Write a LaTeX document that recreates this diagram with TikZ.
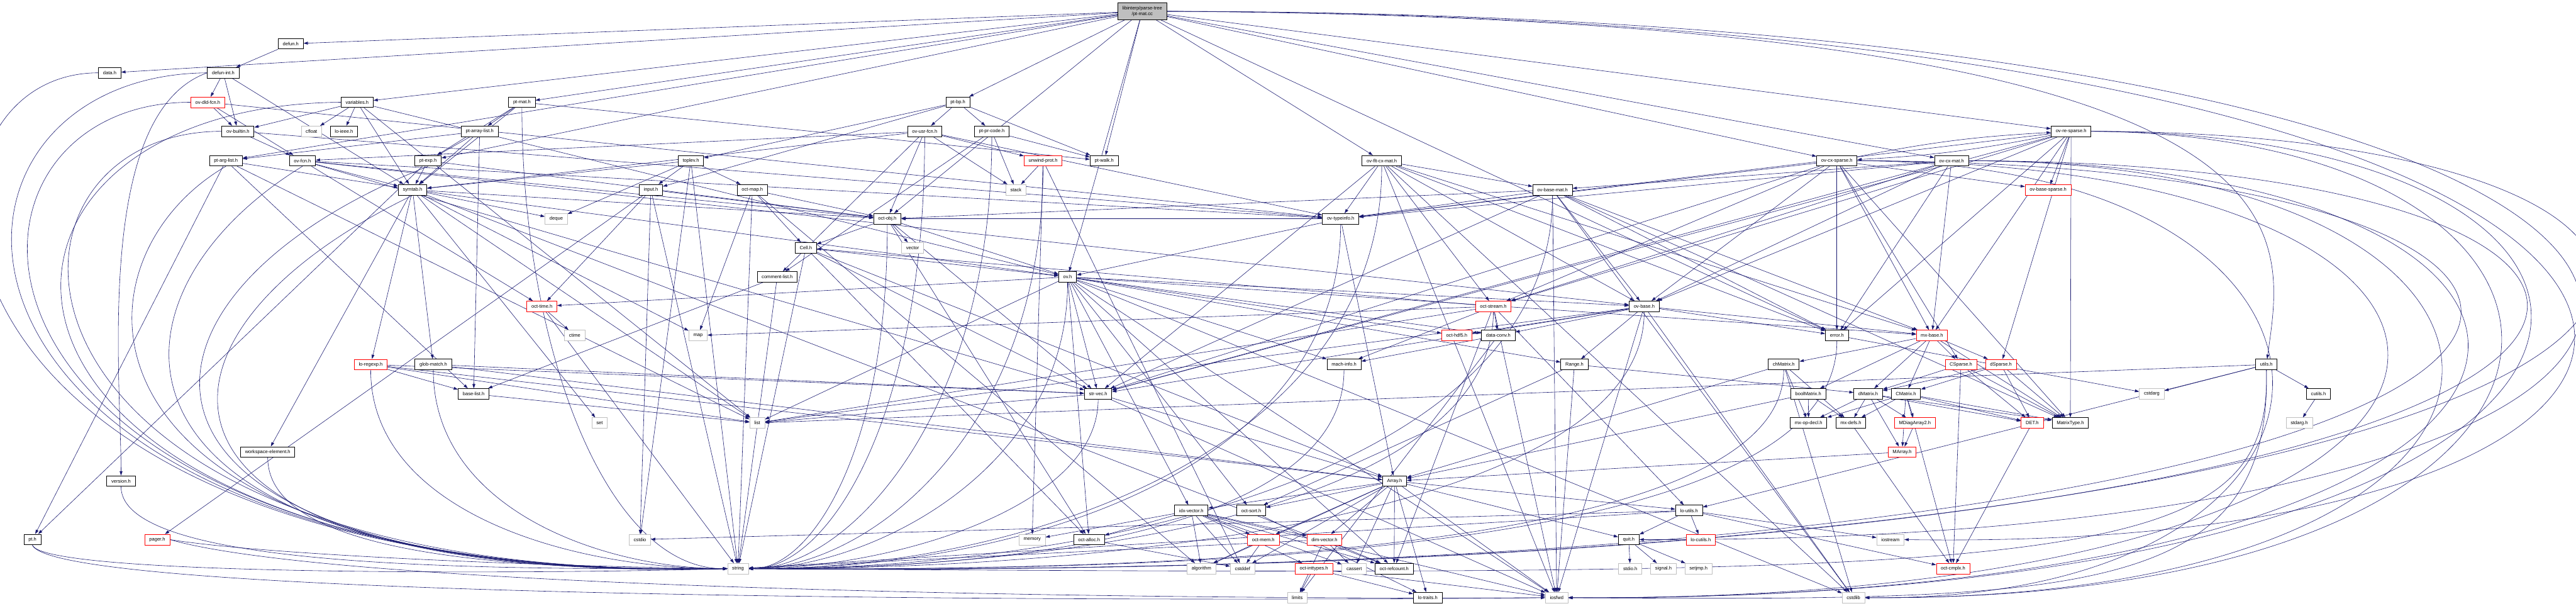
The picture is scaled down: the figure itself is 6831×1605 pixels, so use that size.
\documentclass[tikz,border=0pt]{standalone}
\usepackage{fontspec}
\setmainfont{Liberation Sans}
\usepackage{xcolor}
\usepackage{tikz}
\usetikzlibrary{arrows.meta,backgrounds}
\definecolor{inclblue}{RGB}{25,25,112}
\definecolor{sysgray}{RGB}{191,191,191}
\newcommand\hdrfont{\fontsize{9.5}{12.4}\selectfont}

\begin{document}
\begin{tikzpicture}[x=0.2646mm,y=-0.2646mm,
    hdr/.style={draw=black,line width=0.4mm,fill=white,font=\hdrfont,
      minimum height=7.4mm,inner xsep=3.2mm,inner ysep=0pt},
    redhdr/.style={hdr,draw=red,line width=0.3mm},
    syshdr/.style={hdr,draw=sysgray,line width=0.3mm},
    mainhdr/.style={hdr,fill=sysgray,align=center,minimum height=11.9mm},
    incl/.style={-{Triangle[length=3mm,width=2mm]},draw=inclblue,line width=0.26mm}]
  \useasboundingbox (0,0) rectangle (6831,1605);

  % file being documented
  \node[mainhdr] (main) at (3029,30) {libinterp/parse-tree\\/pt-mat.cc};

  % interpreter headers
  \node[hdr] (defun) at (771,116) {defun.h};
  \node[hdr] (data) at (291,193) {data.h};
  \node[hdr] (defunint) at (592,193) {defun-int.h};
  \node[redhdr] (ovdld) at (551,271) {ov-dld-fcn.h};
  \node[hdr] (variables) at (947,271) {variables.h};
  \node[hdr] (ptmath) at (1384,271) {pt-mat.h};
  \node[hdr] (ptbp) at (2540,271) {pt-bp.h};
  \node[hdr] (ovbuiltin) at (631,348) {ov-builtin.h};
  \node[syshdr] (cfloat) at (826,348) {cfloat};
  \node[hdr] (loieee) at (912,348) {lo-ieee.h};
  \node[hdr] (ptarraylist) at (1272,348) {pt-array-list.h};
  \node[hdr] (ovusrfcn) at (2452,348) {ov-usr-fcn.h};
  \node[hdr] (ptprcode) at (2630,348) {pt-pr-code.h};
  \node[hdr] (ovresparse) at (5492,348) {ov-re-sparse.h};
  \node[hdr] (ptarglist) at (599,426) {pt-arg-list.h};
  \node[hdr] (ovfcn) at (802,426) {ov-fcn.h};
  \node[hdr] (ptexp) at (1135,426) {pt-exp.h};
  \node[hdr] (toplev) at (1832,426) {toplev.h};
  \node[redhdr] (unwindprot) at (2766,426) {unwind-prot.h};
  \node[hdr] (ptwalk) at (2928,426) {pt-walk.h};
  \node[hdr] (ovfltcxmat) at (3664,426) {ov-flt-cx-mat.h};
  \node[hdr] (ovcxsparse) at (4871,426) {ov-cx-sparse.h};
  \node[hdr] (ovcxmat) at (5175,426) {ov-cx-mat.h};
  \node[hdr] (symtab) at (1094,503) {symtab.h};
  \node[hdr] (input) at (1726,503) {input.h};
  \node[hdr] (octmap) at (1995,503) {oct-map.h};
  \node[syshdr] (stack) at (2694,503) {stack};
  \node[hdr] (ovbasemat) at (4117,503) {ov-base-mat.h};
  \node[redhdr] (ovbasesparse) at (5431,503) {ov-base-sparse.h};
  \node[syshdr] (deque) at (1475,580) {deque};
  \node[hdr] (octobj) at (2353,580) {oct-obj.h};
  \node[hdr] (ovtypeinfo) at (3555,580) {ov-typeinfo.h};
  \node[hdr] (cell) at (2137,657) {Cell.h};
  \node[syshdr] (vector) at (2420,657) {vector};
  \node[hdr] (commentlist) at (2061,734) {comment-list.h};
  \node[hdr] (ovh) at (2831,734) {ov.h};
  \node[redhdr] (octtime) at (1437,812) {oct-time.h};
  \node[redhdr] (octstream) at (3960,812) {oct-stream.h};
  \node[hdr] (ovbase) at (4360,812) {ov-base.h};
  \node[syshdr] (ctime) at (1524,889) {ctime};
  \node[syshdr] (map) at (1851,889) {map};
  \node[redhdr] (octhdf) at (3863,889) {oct-hdf5.h};
  \node[hdr] (dataconv) at (3973,889) {data-conv.h};
  \node[hdr] (error) at (4871,889) {error.h};
  \node[redhdr] (mxbase) at (5123,889) {mx-base.h};
  \node[redhdr] (loregexp) at (983,966) {lo-regexp.h};
  \node[hdr] (globmatch) at (1149,966) {glob-match.h};
  \node[hdr] (machinfo) at (3564,966) {mach-info.h};
  \node[hdr] (range) at (4175,966) {Range.h};
  \node[hdr] (chmatrix) at (4730,966) {chMatrix.h};
  \node[redhdr] (csparse) at (5200,966) {CSparse.h};
  \node[redhdr] (dsparse) at (5306,966) {dSparse.h};
  \node[hdr] (utils) at (6010,966) {utils.h};
  \node[hdr] (baselist) at (1256,1044) {base-list.h};
  \node[hdr] (strvec) at (2912,1044) {str-vec.h};
  \node[hdr] (boolmatrix) at (4795,1044) {boolMatrix.h};
  \node[hdr] (dmatrix) at (4954,1044) {dMatrix.h};
  \node[hdr] (cmatrix) at (5054,1044) {CMatrix.h};
  \node[syshdr] (cstdarg) at (5706,1044) {cstdarg};
  \node[hdr] (cutils) at (6148,1044) {cutils.h};
  \node[syshdr] (set) at (1590,1121) {set};
  \node[syshdr] (list) at (2008,1121) {list};
  \node[hdr] (mxopdecl) at (4796,1121) {mx-op-decl.h};
  \node[hdr] (mxdefs) at (4908,1121) {mx-defs.h};
  \node[redhdr] (mdiag) at (5078,1121) {MDiagArray2.h};
  \node[redhdr] (det) at (5389,1121) {DET.h};
  \node[hdr] (matrixtype) at (5490,1121) {MatrixType.h};
  \node[syshdr] (stdargh) at (6097,1121) {stdarg.h};
  \node[hdr] (wselem) at (710,1198) {workspace-element.h};
  \node[redhdr] (marray) at (5044,1198) {MArray.h};
  \node[hdr] (version) at (321,1275) {version.h};
  \node[hdr] (array) at (3698,1275) {Array.h};
  \node[hdr] (idxvector) at (3159,1353) {idx-vector.h};
  \node[hdr] (octsort) at (3318,1353) {oct-sort.h};
  \node[hdr] (loutils) at (4479,1353) {lo-utils.h};
  \node[hdr] (pth) at (86,1430) {pt.h};
  \node[redhdr] (pager) at (417,1430) {pager.h};
  \node[syshdr] (cstdio) at (1697,1430) {cstdio};
  \node[syshdr] (memory) at (2737,1430) {memory};
  \node[hdr] (octalloc) at (2888,1430) {oct-alloc.h};
  \node[redhdr] (octmem) at (3350,1430) {oct-mem.h};
  \node[redhdr] (dimvector) at (3512,1430) {dim-vector.h};
  \node[hdr] (quit) at (4319,1430) {quit.h};
  \node[redhdr] (locutils) at (4510,1430) {lo-cutils.h};
  \node[syshdr] (iostream) at (5013,1430) {iostream};
  \node[syshdr] (string) at (1957,1507) {string};
  \node[syshdr] (algorithm) at (3186,1507) {algorithm};
  \node[syshdr] (cstddef) at (3295,1507) {cstddef};
  \node[redhdr] (octinttypes) at (3484,1507) {oct-inttypes.h};
  \node[syshdr] (cassert) at (3591,1507) {cassert};
  \node[hdr] (octrefcount) at (3697,1507) {oct-refcount.h};
  \node[syshdr] (stdioh) at (4323,1507) {stdio.h};
  \node[syshdr] (signalh) at (4411,1507) {signal.h};
  \node[syshdr] (setjmph) at (4504,1507) {setjmp.h};
  \node[redhdr] (octcmplx) at (5179,1507) {oct-cmplx.h};
  \node[syshdr] (limits) at (3440,1584) {limits};
  \node[hdr] (lotraits) at (3786,1584) {lo-traits.h};
  \node[syshdr] (iosfwd) at (4128,1584) {iosfwd};
  \node[syshdr] (cstdlib) at (4915,1584) {cstdlib};

  \begin{scope}[on background layer]
  % includes of pt-mat.cc
  \draw[incl](main)--(defun); \draw[incl](main)--(data); \draw[incl](main)--(variables);
  \draw[incl](main)--(ptarglist); \draw[incl](main)--(ptexp); \draw[incl](main)--(ptmath);
  \draw[incl](main)--(ptbp); \draw[incl](main)--(ptwalk); \draw[incl](main)--(octobj);
  \draw[incl](main)--(ovh); \draw[incl](main)--(ovfltcxmat); \draw[incl](main)--(ovcxsparse);
  \draw[incl](main)--(ovcxmat); \draw[incl](main)--(ovresparse); \draw[incl](main)--(error);
  \draw[incl](main.east) .. controls (6200,50) and (6060,600) .. (utils);
  \draw[incl](main.east) .. controls (7676,40) and (7676,1470) .. (iostream.east);
  \draw[incl](main.east) .. controls (7860,35) and (7860,1440) .. (quit.east);

  % left part
  \draw[incl](defun)--(defunint);
  \draw[incl](data.west) .. controls (-311,193) and (-311,1545) .. (string.west);
  \draw[incl](defunint)--(ovdld); \draw[incl](defunint)--(ovbuiltin); \draw[incl](defunint)--(symtab);
  \draw[incl](defunint.west) .. controls (250,300) and (321,1000) .. (version);
  \draw[incl](defunint.west) .. controls (-291,200) and (-291,1545) .. (string.west);
  \draw[incl](ovdld)--(ovbuiltin); \draw[incl](ovdld)--(ovfcn); \draw[incl](ovdld)--(ovtypeinfo);
  \draw[incl](ovdld.west) .. controls (-216,271) and (-216,1545) .. (string.west);
  \draw[incl](variables)--(cfloat); \draw[incl](variables)--(loieee); \draw[incl](variables)--(ovbuiltin);
  \draw[incl](variables)--(symtab); \draw[incl](variables)--(ovh); \draw[incl](variables)--(list);
  \draw[incl](variables.west) .. controls (-215,280) and (-215,1545) .. (string.west);
  \draw[incl](ovbuiltin)--(ovfcn); \draw[incl](ovbuiltin)--(ovtypeinfo);
  \draw[incl](ovbuiltin.west) .. controls (-91,348) and (-91,1545) .. (string.west);
  \draw[incl](ptarglist)--(symtab); \draw[incl](ptarglist)--(baselist); \draw[incl](ptarglist)--(pth);
  \draw[incl](ptarglist)--(list);
  \draw[incl](ptarglist.south) .. controls (152,700) and (152,1545) .. (string.west);
  \draw[incl](ovfcn)--(symtab); \draw[incl](ovfcn)--(octtime); \draw[incl](ovfcn)--(strvec);
  \draw[incl](ovfcn)--(octobj); \draw[incl](ovfcn)--(ovbase); \draw[incl](ovfcn)--(ovtypeinfo);
  \draw[incl](ovfcn.south) .. controls (215,800) and (215,1545) .. (string.west);
  \draw[incl](ptexp)--(symtab); \draw[incl](ptexp)--(pth); \draw[incl](ptexp)--(octobj);
  \draw[incl](ptexp.south) .. controls (227,800) and (227,1545) .. (string.west);
  \draw[incl](symtab)--(deque); \draw[incl](symtab)--(loregexp); \draw[incl](symtab)--(globmatch);
  \draw[incl](symtab)--(wselem); \draw[incl](symtab)--(map); \draw[incl](symtab)--(set);
  \draw[incl](symtab)--(list); \draw[incl](symtab)--(ovh); \draw[incl](symtab)--(octobj);
  \draw[incl](symtab)--(octrefcount);
  \draw[incl](symtab.south) .. controls (303,900) and (303,1545) .. (string.west);
  \draw[incl](ptmath)--(ptarraylist); \draw[incl](ptmath)--(ptexp); \draw[incl](ptmath)--(symtab);
  \draw[incl](ptmath)--(ptwalk);
  \draw[incl](ptmath.south) .. controls (1384,900) and (1600,1507) .. (string.west);
  \draw[incl](ptarraylist)--(ptarglist); \draw[incl](ptarraylist)--(ptexp);
  \draw[incl](ptarraylist)--(symtab); \draw[incl](ptarraylist)--(baselist);
  \draw[incl](toplev)--(input); \draw[incl](toplev)--(deque); \draw[incl](toplev)--(octmap);
  \draw[incl](toplev)--(symtab); \draw[incl](toplev)--(cstdio); \draw[incl](toplev)--(string);
  \draw[incl](input)--(octtime); \draw[incl](input)--(string); \draw[incl](input)--(cstdio);
  \draw[incl](input)--(octobj); \draw[incl](input)--(pager);
  \draw[incl](octmap)--(cell); \draw[incl](octmap)--(map); \draw[incl](octmap)--(algorithm);
  \draw[incl](octmap)--(string); \draw[incl](octmap)--(octobj);
  \draw[incl](cell)--(array); \draw[incl](cell)--(octalloc); \draw[incl](cell)--(strvec);
  \draw[incl](cell)--(ovh); \draw[incl](cell)--(string);
  \draw[incl](commentlist)--(baselist); \draw[incl](commentlist)--(string);
  \draw[incl](octtime)--(ctime); \draw[incl](octtime)--(string);
  \draw[incl](loregexp)--(array); \draw[incl](loregexp)--(baselist); \draw[incl](loregexp)--(strvec);
  \draw[incl](loregexp)--(list);
  \draw[incl](loregexp.south) .. controls (983,1350) and (1500,1507) .. (string.west);
  \draw[incl](globmatch)--(array); \draw[incl](globmatch)--(strvec);
  \draw[incl](globmatch.south) .. controls (1149,1350) and (1600,1507) .. (string.west);
  \draw[incl](wselem.south) .. controls (710,1480) and (1400,1510) .. (string.west);
  \draw[incl](version.south) .. controls (321,1500) and (1200,1510) .. (string.west);
  \draw[incl](pth.south) .. controls (120,1530) and (1500,1520) .. (string.west);
  \draw[incl](pth.south) .. controls (150,1590) and (3000,1595) .. (iosfwd.west);
  \draw[incl](pager.east) .. controls (700,1470) and (1400,1500) .. (string.west);
  \draw[incl](pager.east) .. controls (900,1560) and (3000,1590) .. (iosfwd.west);
  \draw[incl](baselist)--(list);

  % middle part
  \draw[incl](ptbp)--(input); \draw[incl](ptbp)--(toplev); \draw[incl](ptbp)--(ovusrfcn);
  \draw[incl](ptbp)--(ptprcode); \draw[incl](ptbp)--(ptwalk);
  \draw[incl](ovusrfcn)--(commentlist); \draw[incl](ovusrfcn)--(ovfcn); \draw[incl](ovusrfcn)--(ovtypeinfo);
  \draw[incl](ovusrfcn)--(symtab); \draw[incl](ovusrfcn)--(unwindprot); \draw[incl](ovusrfcn)--(stack);
  \draw[incl](ovusrfcn)--(octobj);
  \draw[incl](ovusrfcn.south) .. controls (2452,1100) and (2200,1507) .. (string.east);
  \draw[incl](ptprcode)--(stack); \draw[incl](ptprcode)--(ptwalk); \draw[incl](ptprcode)--(commentlist);
  \draw[incl](ptprcode.south) .. controls (2630,1100) and (2250,1507) .. (string.east);
  \draw[incl](unwindprot)--(stack); \draw[incl](unwindprot)--(cstddef); \draw[incl](unwindprot)--(memory);
  \draw[incl](unwindprot.south) .. controls (2766,1150) and (2300,1507) .. (string.east);
  \draw[incl](octobj)--(vector); \draw[incl](octobj)--(ovh); \draw[incl](octobj)--(cell);
  \draw[incl](octobj)--(octalloc); \draw[incl](octobj)--(strvec);
  \draw[incl](octobj.south) .. controls (2353,1200) and (2150,1507) .. (string.east);
  \draw[incl](ovh)--(cstdlib); \draw[incl](ovh)--(iosfwd); \draw[incl](ovh)--(list);
  \draw[incl](ovh)--(range); \draw[incl](ovh)--(dataconv); \draw[incl](ovh)--(idxvector);
  \draw[incl](ovh)--(machinfo); \draw[incl](ovh)--(mxbase); \draw[incl](ovh)--(octalloc);
  \draw[incl](ovh)--(octtime); \draw[incl](ovh)--(strvec); \draw[incl](ovh)--(octhdf);
  \draw[incl](ovh)--(octsort); \draw[incl](ovh)--(ovbase); \draw[incl](ovh)--(octrefcount);
  \draw[incl](ovh.south) .. controls (2831,1250) and (2300,1507) .. (string.east);
  \draw[incl](strvec)--(iosfwd); \draw[incl](strvec)--(array); \draw[incl](strvec)--(list);
  \draw[incl](strvec.south) .. controls (2912,1350) and (2350,1507) .. (string.east);
  \draw[incl](idxvector)--(cstddef); \draw[incl](idxvector)--(cassert); \draw[incl](idxvector)--(algorithm);
  \draw[incl](idxvector)--(iosfwd); \draw[incl](idxvector)--(dimvector); \draw[incl](idxvector)--(octinttypes);
  \draw[incl](idxvector)--(octalloc); \draw[incl](idxvector)--(octmem); \draw[incl](idxvector)--(octrefcount);
  \draw[incl](idxvector)--(memory);
  \draw[incl](octsort)--(lotraits); \draw[incl](octalloc)--(cstddef);
  \draw[incl](octmem)--(algorithm); \draw[incl](octmem)--(cstddef);
  \draw[incl](array)--(cassert); \draw[incl](array)--(cstddef); \draw[incl](array)--(algorithm);
  \draw[incl](array)--(iosfwd); \draw[incl](array)--(dimvector); \draw[incl](array)--(idxvector);
  \draw[incl](array)--(lotraits); \draw[incl](array)--(loutils); \draw[incl](array)--(octsort);
  \draw[incl](array)--(quit); \draw[incl](array)--(octmem); \draw[incl](array)--(octrefcount);
  \draw[incl](dimvector)--(cassert); \draw[incl](dimvector)--(octrefcount);
  \draw[incl](dimvector)--(limits); \draw[incl](dimvector)--(string);
  \draw[incl](octinttypes)--(limits); \draw[incl](octinttypes)--(lotraits); \draw[incl](octinttypes)--(iosfwd);

  % octave value types
  \draw[incl](ovfltcxmat)--(cstdlib); \draw[incl](ovfltcxmat)--(iosfwd); \draw[incl](ovfltcxmat)--(mxbase);
  \draw[incl](ovfltcxmat)--(strvec); \draw[incl](ovfltcxmat)--(error); \draw[incl](ovfltcxmat)--(octstream);
  \draw[incl](ovfltcxmat)--(ovbase); \draw[incl](ovfltcxmat)--(ovbasemat); \draw[incl](ovfltcxmat)--(ovtypeinfo);
  \draw[incl](ovfltcxmat.south) .. controls (3664,1200) and (2700,1510) .. (string.east);
  \draw[incl](ovbasemat)--(cstdlib); \draw[incl](ovbasemat)--(iosfwd); \draw[incl](ovbasemat)--(mxbase);
  \draw[incl](ovbasemat)--(strvec); \draw[incl](ovbasemat)--(error); \draw[incl](ovbasemat)--(octobj);
  \draw[incl](ovbasemat)--(ovbase); \draw[incl](ovbasemat)--(ovtypeinfo); \draw[incl](ovbasemat)--(matrixtype);
  \draw[incl](ovbasemat.south) .. controls (4117,1250) and (2900,1510) .. (string.east);
  \draw[incl](ovtypeinfo)--(octobj); \draw[incl](ovtypeinfo)--(ovh); \draw[incl](ovtypeinfo)--(array);
  \draw[incl](ovtypeinfo.south) .. controls (3555,1250) and (2700,1510) .. (string.east);
  \draw[incl](octstream)--(iosfwd); \draw[incl](octstream)--(map); \draw[incl](octstream)--(cell);
  \draw[incl](octstream)--(dataconv); \draw[incl](octstream)--(loutils); \draw[incl](octstream)--(machinfo);
  \draw[incl](octstream)--(octrefcount); \draw[incl](octstream)--(list);
  \draw[incl](octstream.south) .. controls (3960,1350) and (2800,1510) .. (string.east);
  \draw[incl](ovbase)--(cstdlib); \draw[incl](ovbase)--(iosfwd); \draw[incl](ovbase)--(range);
  \draw[incl](ovbase)--(dataconv); \draw[incl](ovbase)--(mxbase); \draw[incl](ovbase)--(strvec);
  \draw[incl](ovbase)--(error); \draw[incl](ovbase)--(octhdf); \draw[incl](ovbase)--(list);
  \draw[incl](ovbase.south) .. controls (4360,1350) and (3000,1510) .. (string.east);
  \draw[incl](dataconv)--(limits); \draw[incl](dataconv)--(machinfo);
  \draw[incl](machinfo.south) .. controls (3564,1400) and (2700,1510) .. (string.east);
  \draw[incl](range)--(iosfwd); \draw[incl](range)--(dmatrix); \draw[incl](range)--(octsort);
  \draw[incl](loutils)--(cstdio); \draw[incl](loutils)--(iostream); \draw[incl](loutils)--(string);
  \draw[incl](loutils)--(quit); \draw[incl](loutils)--(locutils); \draw[incl](loutils)--(octcmplx);
  \draw[incl](quit)--(stdioh); \draw[incl](quit)--(signalh); \draw[incl](quit)--(setjmph);

  % sparse and complex types, looping round the right side
  \draw[incl](ovresparse)--(mxbase); \draw[incl](ovresparse)--(strvec); \draw[incl](ovresparse)--(error);
  \draw[incl](ovresparse)--(octstream); \draw[incl](ovresparse)--(ovbase); \draw[incl](ovresparse)--(ovtypeinfo);
  \draw[incl](ovresparse)--(dsparse); \draw[incl](ovresparse)--(matrixtype); \draw[incl](ovresparse)--(ovbasesparse);
  \draw[incl](ovresparse) to[bend left=4] (ovcxsparse);
  \draw[incl](ovresparse.east) .. controls (7711,350) and (7711,1550) .. (string.east);
  \draw[incl](ovresparse.east) .. controls (7281,355) and (7281,1595) .. (iosfwd.east);
  \draw[incl](ovresparse.east) .. controls (7083,360) and (7083,1595) .. (cstdlib.east);
  \draw[incl](ovcxsparse)--(mxbase); \draw[incl](ovcxsparse)--(strvec); \draw[incl](ovcxsparse)--(error);
  \draw[incl](ovcxsparse)--(octstream); \draw[incl](ovcxsparse)--(ovbase); \draw[incl](ovcxsparse)--(ovtypeinfo);
  \draw[incl](ovcxsparse)--(csparse); \draw[incl](ovcxsparse)--(matrixtype); \draw[incl](ovcxsparse)--(ovbasesparse);
  \draw[incl](ovcxsparse) to[bend left=4] (ovresparse);
  \draw[incl](ovcxsparse.east) .. controls (7409,430) and (7409,1550) .. (string.east);
  \draw[incl](ovcxsparse.east) .. controls (6912,430) and (6912,1595) .. (iosfwd.east);
  \draw[incl](ovcxsparse.east) .. controls (6388,430) and (6388,1595) .. (cstdlib.east);
  \draw[incl](ovcxmat)--(mxbase); \draw[incl](ovcxmat)--(strvec); \draw[incl](ovcxmat)--(error);
  \draw[incl](ovcxmat)--(octstream); \draw[incl](ovcxmat)--(ovbase); \draw[incl](ovcxmat)--(ovbasemat);
  \draw[incl](ovcxmat)--(ovtypeinfo);
  \draw[incl](ovcxmat.east) .. controls (7564,430) and (7564,1550) .. (string.east);
  \draw[incl](ovcxmat.east) .. controls (7133,430) and (7133,1595) .. (iosfwd.east);
  \draw[incl](ovcxmat.east) .. controls (6936,430) and (6936,1595) .. (cstdlib.east);

  % liboctave matrix headers
  \draw[incl](error)--(cstdarg);
  \draw[incl](error.south) .. controls (4871,1450) and (3300,1515) .. (string.east);
  \draw[incl](mxbase)--(matrixtype); \draw[incl](mxbase)--(boolmatrix); \draw[incl](mxbase)--(chmatrix);
  \draw[incl](mxbase)--(dmatrix); \draw[incl](mxbase)--(cmatrix); \draw[incl](mxbase)--(dsparse);
  \draw[incl](mxbase)--(csparse);
  \draw[incl](chmatrix)--(mxopdecl); \draw[incl](chmatrix)--(mxdefs); \draw[incl](chmatrix)--(array);
  \draw[incl](chmatrix)--(cstdlib);
  \draw[incl](chmatrix.south) .. controls (4730,1450) and (3200,1515) .. (string.east);
  \draw[incl](csparse)--(dmatrix); \draw[incl](csparse)--(det); \draw[incl](csparse)--(matrixtype);
  \draw[incl](csparse)--(octcmplx);
  \draw[incl](dsparse)--(dmatrix); \draw[incl](dsparse)--(cmatrix); \draw[incl](dsparse)--(det);
  \draw[incl](dsparse)--(matrixtype);
  \draw[incl](boolmatrix)--(mxopdecl); \draw[incl](boolmatrix)--(mxdefs); \draw[incl](boolmatrix)--(array);
  \draw[incl](dmatrix)--(mxopdecl); \draw[incl](dmatrix)--(mxdefs); \draw[incl](dmatrix)--(mdiag);
  \draw[incl](dmatrix)--(marray); \draw[incl](dmatrix)--(det); \draw[incl](dmatrix)--(matrixtype);
  \draw[incl](cmatrix)--(mxdefs); \draw[incl](cmatrix)--(mxopdecl); \draw[incl](cmatrix)--(marray);
  \draw[incl](cmatrix)--(mdiag); \draw[incl](cmatrix)--(det); \draw[incl](cmatrix)--(matrixtype);
  \draw[incl](cmatrix)--(octcmplx);
  \draw[incl](mxdefs)--(octcmplx); \draw[incl](mdiag)--(marray);
  \draw[incl](det)--(octcmplx); \draw[incl](marray)--(array);
  \draw[incl](utils)--(cstdarg); \draw[incl](utils)--(cutils); \draw[incl](utils)--(list);
  \draw[incl](utils)--(loutils);
  \draw[incl](utils.south) .. controls (6025,1520) and (5500,1530) .. (string.east);
  \draw[incl](utils.south) .. controls (6025,1590) and (5500,1592) .. (iosfwd.east);
  \draw[incl](cutils)--(stdargh);
  \end{scope}
\end{tikzpicture}
\end{document}
